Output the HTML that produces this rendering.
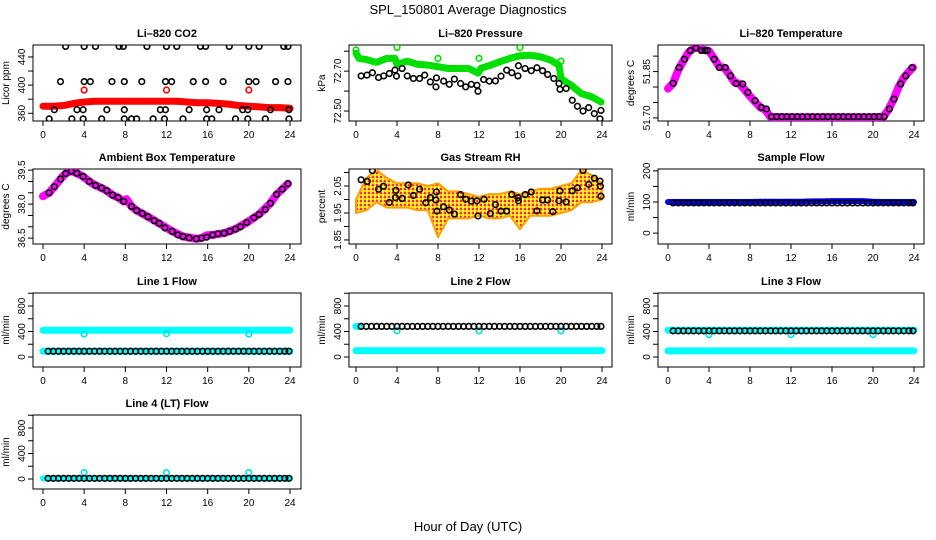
<!DOCTYPE html>
<html><head><meta charset="utf-8"><title>SPL_150801 Average Diagnostics</title>
<style>
html,body{margin:0;padding:0;background:#fff;}
svg{display:block;font-family:"Liberation Sans",Arial,sans-serif;}
</style></head>
<body>
<svg id="chart" width="936" height="540" viewBox="0 0 936 540" xmlns="http://www.w3.org/2000/svg">
<defs>
<pattern id="rhPat" width="4" height="4" patternUnits="userSpaceOnUse">
<rect width="4" height="4" fill="#ffc040"/>
<rect x="0" y="0" width="2" height="2" fill="#ff3000"/>
<rect x="2" y="2" width="2" height="2" fill="#ffff00"/>
<rect x="2" y="0" width="1" height="1" fill="#ffffff"/>
</pattern>
</defs>
<text x="468" y="14" text-anchor="middle" font-size="13">SPL_150801  Average Diagnostics</text>
<text x="468" y="531" text-anchor="middle" font-size="13">Hour of Day (UTC)</text>
<g id="plots"></g>
</svg>
<script>
// ---------- shared hour categories ----------
const halfHours = [0.5,1,1.5,2,2.5,3,3.5,4,4.5,5,5.5,6,6.5,7,7.5,8,8.5,9,9.5,10,10.5,11,11.5,12,12.5,13,13.5,14,14.5,15,15.5,16,16.5,17,17.5,18,18.5,19,19.5,20,20.5,21,21.5,22,22.5,23,23.5,23.9];
const hours = [0,1,2,3,4,5,6,7,8,9,10,11,12,13,14,15,16,17,18,19,20,21,22,23,24];
const xTicks = [0,4,8,12,16,20,24];
const outlierHours = [4,12,20];

// ---------- CO2 ----------
const co2BandVals = [370,370,371,374,376,377,377,377,377,377,377,377,377,377,376,375,375,374,373,371,370,369,368,368,367];
const co2HiT = [2.2,4,5.1,7.4,7.8,10.1,12,13,15.3,15.8,18.1,20,21,23.4,23.8];
const co2HiV = [455,455,455,455,455,455,455,455,455,455,455,455,455,455,455];
const co2MidT = [1.7,4,4.6,6.7,7.9,9.6,11.9,12.5,14.6,15.8,17.5,20,20.7,22.6,23.8];
const co2MidV = [405,405,405,405,405,405,405,405,405,405,405,405,405,405,405];
const co2LowT = [1.1,3.3,3.9,6.2,7.9,11.4,11.9,14.2,15.9,17.1,19.4,19.9,22.1,23.9];
const co2LowV = [365,365,365,365,365,365,365,365,365,365,365,365,365,365];
const co2BotT = [0.6,2.8,3.9,5.7,7.9,8.6,9.1,10.7,11.8,13.6,15.9,16.4,18.7,19.9,21.6,23.9];
const co2BotV = [352,352,352,352,352,352,352,352,352,352,352,352,352,352,352,352];
const co2OutV = [393,393,393];

// ---------- Pressure ----------
const presT = [0.5,1.07,1.6,2.2,2.7,3.25,3.8,3.95,4.5,5.0,5.6,6.2,6.7,7.25,7.8,7.85,8.55,9.1,9.6,10.2,10.7,11.25,11.8,11.9,12.45,13.0,13.6,14.15,14.7,15.2,15.8,15.85,16.5,17.1,17.65,18.2,18.7,19.3,19.8,19.9,20.5,21.1,21.6,22.15,22.7,23.25,23.8,23.9];
const presV = [72.676,72.680,72.692,72.668,72.676,72.688,72.705,72.675,72.713,72.676,72.663,72.663,72.680,72.646,72.621,72.666,72.650,72.634,72.660,72.638,72.621,72.634,72.629,72.599,72.658,72.650,72.651,72.675,72.705,72.692,72.676,72.727,72.713,72.702,72.717,72.702,72.683,72.663,72.638,72.609,72.613,72.554,72.524,72.500,72.517,72.487,72.461,72.503];
const presBandT = [0,0.3,1,2,3,3.8,4,5,6,7,8,9,10,11,11.9,12.2,13,14,15,16,17,18,19,19.8,20,21,22,23,23.9];
const presBandV = [72.790,72.764,72.758,72.744,72.764,72.764,72.734,72.750,72.734,72.730,72.722,72.713,72.713,72.713,72.690,72.715,72.727,72.747,72.764,72.777,72.780,72.772,72.755,72.730,72.662,72.629,72.587,72.571,72.545];
const presOutT = [0,4,8,12,16,20];
const presOutV = [72.806,72.819,72.764,72.764,72.818,72.750];

// ---------- Li-820 Temperature ----------
const tempT = [0.5,1.07,1.6,2.17,2.72,3.25,3.6,3.86,4.5,5.0,5.6,6.1,6.65,7.3,7.8,8.5,9.1,9.6,10.1,10.6,11.1,11.6,12.1,12.6,13.1,13.6,14.1,14.6,15.1,15.6,16.1,16.6,17.1,17.6,18.1,18.6,19.1,19.6,20.1,20.6,21.1,21.6,22.05,22.7,23.2,23.8];
const tempV = [51.812,51.863,51.890,51.918,51.927,51.918,51.918,51.918,51.890,51.863,51.863,51.836,51.811,51.810,51.783,51.756,51.734,51.729,51.704,51.704,51.704,51.704,51.704,51.704,51.704,51.704,51.704,51.704,51.704,51.704,51.704,51.704,51.704,51.704,51.704,51.704,51.704,51.704,51.704,51.704,51.704,51.729,51.761,51.810,51.836,51.863];
const tempBandT = [0,0.5,1,1.5,2,2.5,3,3.5,4,4.5,5,5.5,6,6.5,7,7.5,8,8.5,9,9.5,10,12,14,16,18,20,21,21.5,22,22.5,23,23.5,23.9];
const tempBandV = [51.795,51.812,51.855,51.885,51.912,51.925,51.928,51.920,51.917,51.892,51.866,51.862,51.840,51.815,51.810,51.790,51.770,51.752,51.734,51.726,51.703,51.702,51.702,51.702,51.702,51.702,51.704,51.726,51.760,51.800,51.830,51.850,51.863];

// ---------- Ambient Box Temperature ----------
const ambT = [0.6,1.1,1.7,2.2,2.75,3.3,3.9,4.5,5.1,5.7,6.2,6.75,7.3,7.85,8.6,9.1,9.65,10.2,10.8,11.3,11.85,12.55,13.1,13.6,14.2,14.9,15.4,15.9,16.5,17.0,17.6,18.15,18.7,19.2,19.8,20.5,21.0,21.6,22.1,22.7,23.25,23.8];
const ambV = [38.5,38.77,39.11,39.35,39.46,39.36,39.22,39.0,38.83,38.71,38.59,38.4,38.29,38.12,37.9,37.72,37.59,37.44,37.27,37.15,36.95,36.8,36.64,36.57,36.51,36.47,36.5,36.54,36.64,36.69,36.72,36.8,36.9,37.0,37.19,37.4,37.55,37.76,38.04,38.43,38.66,38.9];
const ambBandT = [0,0.6,1.1,1.7,2.2,2.75,3.3,3.9,4.5,5.1,5.7,6.2,6.75,7.3,7.85,8.1,8.6,9.1,10.2,11.3,12.55,13.6,14.9,15.4,15.9,16.5,17.6,18.7,19.8,21.0,22.1,22.7,23.25,23.8];
const ambBandV = [38.35,38.5,38.77,39.11,39.35,39.46,39.36,39.22,39.0,38.83,38.71,38.59,38.4,38.29,38.12,38.22,37.9,37.72,37.44,37.15,36.8,36.57,36.47,36.5,36.62,36.64,36.72,36.9,37.19,37.55,38.04,38.43,38.66,38.9];

// ---------- Gas Stream RH ----------
const rhT = [0.5,1.1,1.6,2.2,2.7,3.25,3.85,3.9,4.5,5.1,5.6,6.2,6.8,7.25,7.8,7.85,7.9,8.55,9.1,9.6,10.2,10.7,11.25,11.8,11.9,12.5,13.1,13.6,14.15,14.7,15.2,15.8,15.85,16.5,17.1,17.65,18.2,18.7,19.2,19.8,19.9,20.5,21.1,21.6,22.15,22.7,23.25,23.8,23.85,23.9];
const rhV = [2.073,2.067,2.107,2.038,2.049,1.989,2.007,2.034,2.004,2.054,2.015,2.038,1.988,2.007,1.998,2.028,1.957,1.973,1.961,1.946,2.018,2.001,1.994,1.995,1.939,2.001,1.948,1.981,1.957,1.957,2.019,2.007,1.995,2.018,2.028,1.958,1.998,1.998,1.955,1.995,2.032,1.991,2.032,2.043,2.108,2.056,2.079,2.068,2.049,2.012];
const rhUpper = [2.00,2.08,2.11,2.08,2.06,2.06,2.06,2.05,2.06,2.03,2.03,2.02,2.01,2.02,2.02,2.03,2.02,2.03,2.04,2.04,2.05,2.06,2.11,2.09,2.06];
const rhLower = [1.95,1.96,1.99,1.97,1.97,1.97,1.96,1.96,1.86,1.93,1.93,1.93,1.94,1.93,1.93,1.94,1.89,1.94,1.94,1.94,1.95,1.96,1.99,1.99,2.00];

// ---------- Sample Flow ----------
const sampleV = [97,97,97,97,97,97,97,97,97,97,97,97,97,97,97,97,97,97,97,97,97,97,97,97,97,97,97,97,97,97,97,97,97,97,97,97,97,97,97,97,97,97,97,97,97,97,97,97];
const sampleBand = [100,100,100,100,100,100,100,100,100,101,101,101,101,101,102,102,103,103,103,103,101,100,100,100,100];

// ---------- Line flows ----------
const line1V = [90,90,90,90,90,90,90,90,90,90,90,90,90,90,90,90,90,90,90,90,90,90,90,90,90,90,90,90,90,90,90,90,90,90,90,90,90,90,90,90,90,90,90,90,90,90,90,90];
const line1BandHi = [420,420,420,420,420,420,420,420,420,420,420,420,420,420,420,420,420,420,420,420,420,420,420,420,420];
const line1BandLo = [90,90,90,90,90,90,90,90,90,90,90,90,90,90,90,90,90,90,90,90,90,90,90,90,90];
const line1Out = [360,365,360];
const line2V = [480,480,480,480,480,480,480,480,480,480,480,480,480,480,480,480,480,480,480,480,480,480,480,480,480,480,480,480,480,480,480,480,480,480,480,480,480,480,480,480,480,480,480,480,480,480,480,480];
const line2BandLo = [100,100,100,100,100,100,100,100,100,100,100,100,100,100,100,100,100,100,100,100,100,100,100,100,100];
const line2Out = [410,410,410];
const line3V = [410,410,410,410,410,410,410,410,410,410,410,410,410,410,410,410,410,410,410,410,410,410,410,410,410,410,410,410,410,410,410,410,410,410,410,410,410,410,410,410,410,410,410,410,410,410,410,410];
const line3BandHi = [420,420,420,420,420,420,420,420,420,420,420,420,420,420,420,420,420,420,420,420,420,420,420,420,420];
const line3BandLo = [95,95,95,95,95,95,95,95,95,95,95,95,95,95,95,95,95,95,95,95,95,95,95,95,95];
const line3Out = [350,350,350];
const line4V = [10,10,10,10,10,10,10,10,10,10,10,10,10,10,10,10,10,10,10,10,10,10,10,10,10,10,10,10,10,10,10,10,10,10,10,10,10,10,10,10,10,10,10,10,10,10,10,10];
const line4Band = [10,10,10,10,10,10,10,10,10,10,10,10,10,10,10,10,10,10,10,10,10,10,10,10,10];
const line4Out = [100,100,100];

// ---------- layout ----------
const colL = [33,349,658], colR = [301,612,924], colX0 = [43,356,668], colX24 = [290,602,914];
const rowT = [45,169,293,415], rowB = [121,244,367,489];
const NS = 'http://www.w3.org/2000/svg';
const root = document.getElementById('plots');

function mk(tag, attrs, parent){
  const e = document.createElementNS(NS, tag);
  for (const k in attrs) e.setAttribute(k, attrs[k]);
  parent.appendChild(e);
  return e;
}

function panel(name, title, ylab, r, c, ymin, ymax, ticks, labels, fmt){
  const g = mk('g', {}, root);
  
  
  const L = colL[c], R = colR[c], T = rowT[r], B = rowB[r];
  const sx = t => colX0[c] + (colX24[c]-colX0[c]) * t / 24;
  const sy = v => B - (v - ymin) / (ymax - ymin) * (B - T);
  const box = mk('rect', {x:L, y:T, width:R-L, height:B-T, fill:'none', stroke:'#000', 'stroke-width':1}, g);
  
  
  const tt = mk('text', {x:(L+R)/2, y:T-8, 'text-anchor':'middle', 'font-size':11, 'font-weight':'bold'}, g);
  tt.textContent = title;
  
  
  const yl = mk('text', {transform:`translate(${L-24},${(T+B)/2}) rotate(-90)`, 'text-anchor':'middle', 'font-size':10}, g);
  yl.textContent = ylab;
  
  
  const xa = mk('g', {}, g);
  
  
  xTicks.forEach(t => {
    mk('line', {x1:sx(t), x2:sx(t), y1:B, y2:B+5, stroke:'#000'}, xa);
    const lb = mk('text', {x:sx(t), y:B+17, 'text-anchor':'middle', 'font-size':10}, xa);
    lb.textContent = t;
    
    
  });
  const ya = mk('g', {}, g);
  
  
  ticks.forEach(v => { if (v >= ymin && v <= ymax) mk('line', {x1:L-5, x2:L, y1:sy(v), y2:sy(v), stroke:'#000'}, ya); });
  labels.forEach(v => {
    const lb = mk('text', {transform:`translate(${L-8},${sy(v)}) rotate(-90)`, 'text-anchor':'middle', 'font-size':10}, ya);
    lb.textContent = fmt ? fmt(v) : v;
    
    
  });
  const clipId = 'clip-' + name;
  const cp = mk('clipPath', {id:clipId}, g);
  mk('rect', {x:L, y:T, width:R-L, height:B-T}, cp);
  const marks = mk('g', {'clip-path':`url(#${clipId})`}, g);
  
  
  return {sx, sy, g: marks};
}

function band(p, ts, vs, color, w, name){
  const d = ts.map((t,i) => (i ? 'L' : 'M') + p.sx(t).toFixed(1) + ',' + p.sy(vs[i]).toFixed(1)).join('');
  const e = mk('path', {d, fill:'none', stroke:color, 'stroke-width':w, 'stroke-linecap':'round', 'stroke-linejoin':'round'}, p.g);
  
  
}
function pts(p, ts, vs, color, name, r){
  ts.forEach((t,i) => {
    const e = mk('circle', {cx:p.sx(t), cy:p.sy(vs[i]), r:r||2.8, fill:'none', stroke:color, 'stroke-width':1.6}, p.g);
    
    
  });
}

// CO2
let p = panel('co2', 'Li\u2013820 CO2', 'Licor ppm', 0, 0, 349, 457, [360,380,400,420,440], [360,400,440]);
band(p, hours, co2BandVals, '#ff0000', 7, 'co2-band');
pts(p, co2HiT, co2HiV, '#000', 'co2-point');
pts(p, co2MidT, co2MidV, '#000', 'co2-point');
pts(p, co2LowT, co2LowV, '#000', 'co2-point');
pts(p, co2BotT, co2BotV, '#000', 'co2-point');
pts(p, outlierHours, co2OutV, '#ff0000', 'co2-outlier');

// Pressure
p = panel('pressure', 'Li\u2013820 Pressure', 'kPa', 0, 1, 72.45, 72.831, [72.5,72.6,72.7,72.8], [72.5,72.7], v => v.toFixed(2));
band(p, presBandT, presBandV, '#00e000', 7, 'pressure-band');
pts(p, presOutT, presOutV, '#00e000', 'pressure-outlier');
pts(p, presT, presV, '#000', 'pressure-point');

// Li-820 temperature
p = panel('li820-temp', 'Li\u2013820 Temperature', 'degrees C', 0, 2, 51.69, 51.936, [51.70,51.75,51.80,51.85,51.90], [51.70,51.85], v => v.toFixed(2));
band(p, tempBandT, tempBandV, '#ff00ff', 8, 'li820-temp-band');
pts(p, tempT, tempV, '#000', 'li820-temp-point');

// Ambient
p = panel('ambient-temp', 'Ambient Box Temperature', 'degrees C', 1, 0, 36.24, 39.55, [36.5,37,37.5,38,38.5,39,39.5], [36.5,38.0,39.5], v => v.toFixed(1));
band(p, ambBandT, ambBandV, '#ff00ff', 8, 'ambient-temp-band');
pts(p, ambT, ambV, '#000', 'ambient-temp-point');

// RH
p = panel('rh', 'Gas Stream RH', 'percent', 1, 1, 1.835, 2.113, [1.85,1.90,1.95,2.00,2.05,2.10], [1.85,1.95,2.05], v => v.toFixed(2));
(function(){
  let d = hours.map((t,i) => (i ? 'L' : 'M') + p.sx(t).toFixed(1) + ',' + p.sy(rhUpper[i]).toFixed(1)).join('');
  for (let i = hours.length - 1; i >= 0; i--) d += 'L' + p.sx(hours[i]).toFixed(1) + ',' + p.sy(rhLower[i]).toFixed(1);
  const e = mk('path', {d: d + 'Z', fill:'url(#rhPat)', stroke:'#ffa000', 'stroke-width':2, 'stroke-linejoin':'round'}, p.g);
  
  
})();
pts(p, rhT, rhV, '#000', 'rh-point');

// Sample flow
p = panel('sample-flow', 'Sample Flow', 'ml/min', 1, 2, -35, 206, [0,50,100,150,200], [0,100,200]);
band(p, hours, sampleBand, '#0000ff', 6, 'sample-flow-band');
pts(p, halfHours, sampleV, '#000', 'sample-flow-point');

const flowTicks = [0,200,400,600,800,1000], flowLabels = [0,400,800];
// Line 1
p = panel('line1-flow', 'Line 1 Flow', 'ml/min', 2, 0, -157, 1004, flowTicks, flowLabels);
band(p, hours, line1BandHi, '#00ffff', 7, 'line1-flow-band-high');
band(p, hours, line1BandLo, '#00ffff', 7, 'line1-flow-band-low');
pts(p, outlierHours, line1Out, '#00e0e0', 'line1-flow-outlier');
pts(p, halfHours, line1V, '#000', 'line1-flow-point');
// Line 2
p = panel('line2-flow', 'Line 2 Flow', 'ml/min', 2, 1, -157, 1004, flowTicks, flowLabels);
band(p, hours, line2BandLo, '#00ffff', 7, 'line2-flow-band-low');
band(p, [0,0.3], [480,480], '#00ffff', 7, 'line2-flow-band-high');
pts(p, outlierHours, line2Out, '#00e0e0', 'line2-flow-outlier');
pts(p, halfHours, line2V, '#000', 'line2-flow-point');
// Line 3
p = panel('line3-flow', 'Line 3 Flow', 'ml/min', 2, 2, -157, 1004, flowTicks, flowLabels);
band(p, hours, line3BandHi, '#00ffff', 7, 'line3-flow-band-high');
band(p, hours, line3BandLo, '#00ffff', 7, 'line3-flow-band-low');
pts(p, outlierHours, line3Out, '#00e0e0', 'line3-flow-outlier');
pts(p, halfHours, line3V, '#000', 'line3-flow-point');
// Line 4
p = panel('line4-flow', 'Line 4 (LT) Flow', 'ml/min', 3, 0, -157, 1004, flowTicks, flowLabels);
band(p, hours, line4Band, '#00ffff', 6, 'line4-flow-band');
pts(p, outlierHours, line4Out, '#00e0e0', 'line4-flow-outlier');
pts(p, halfHours, line4V, '#000', 'line4-flow-point');
</script>
</body></html>
